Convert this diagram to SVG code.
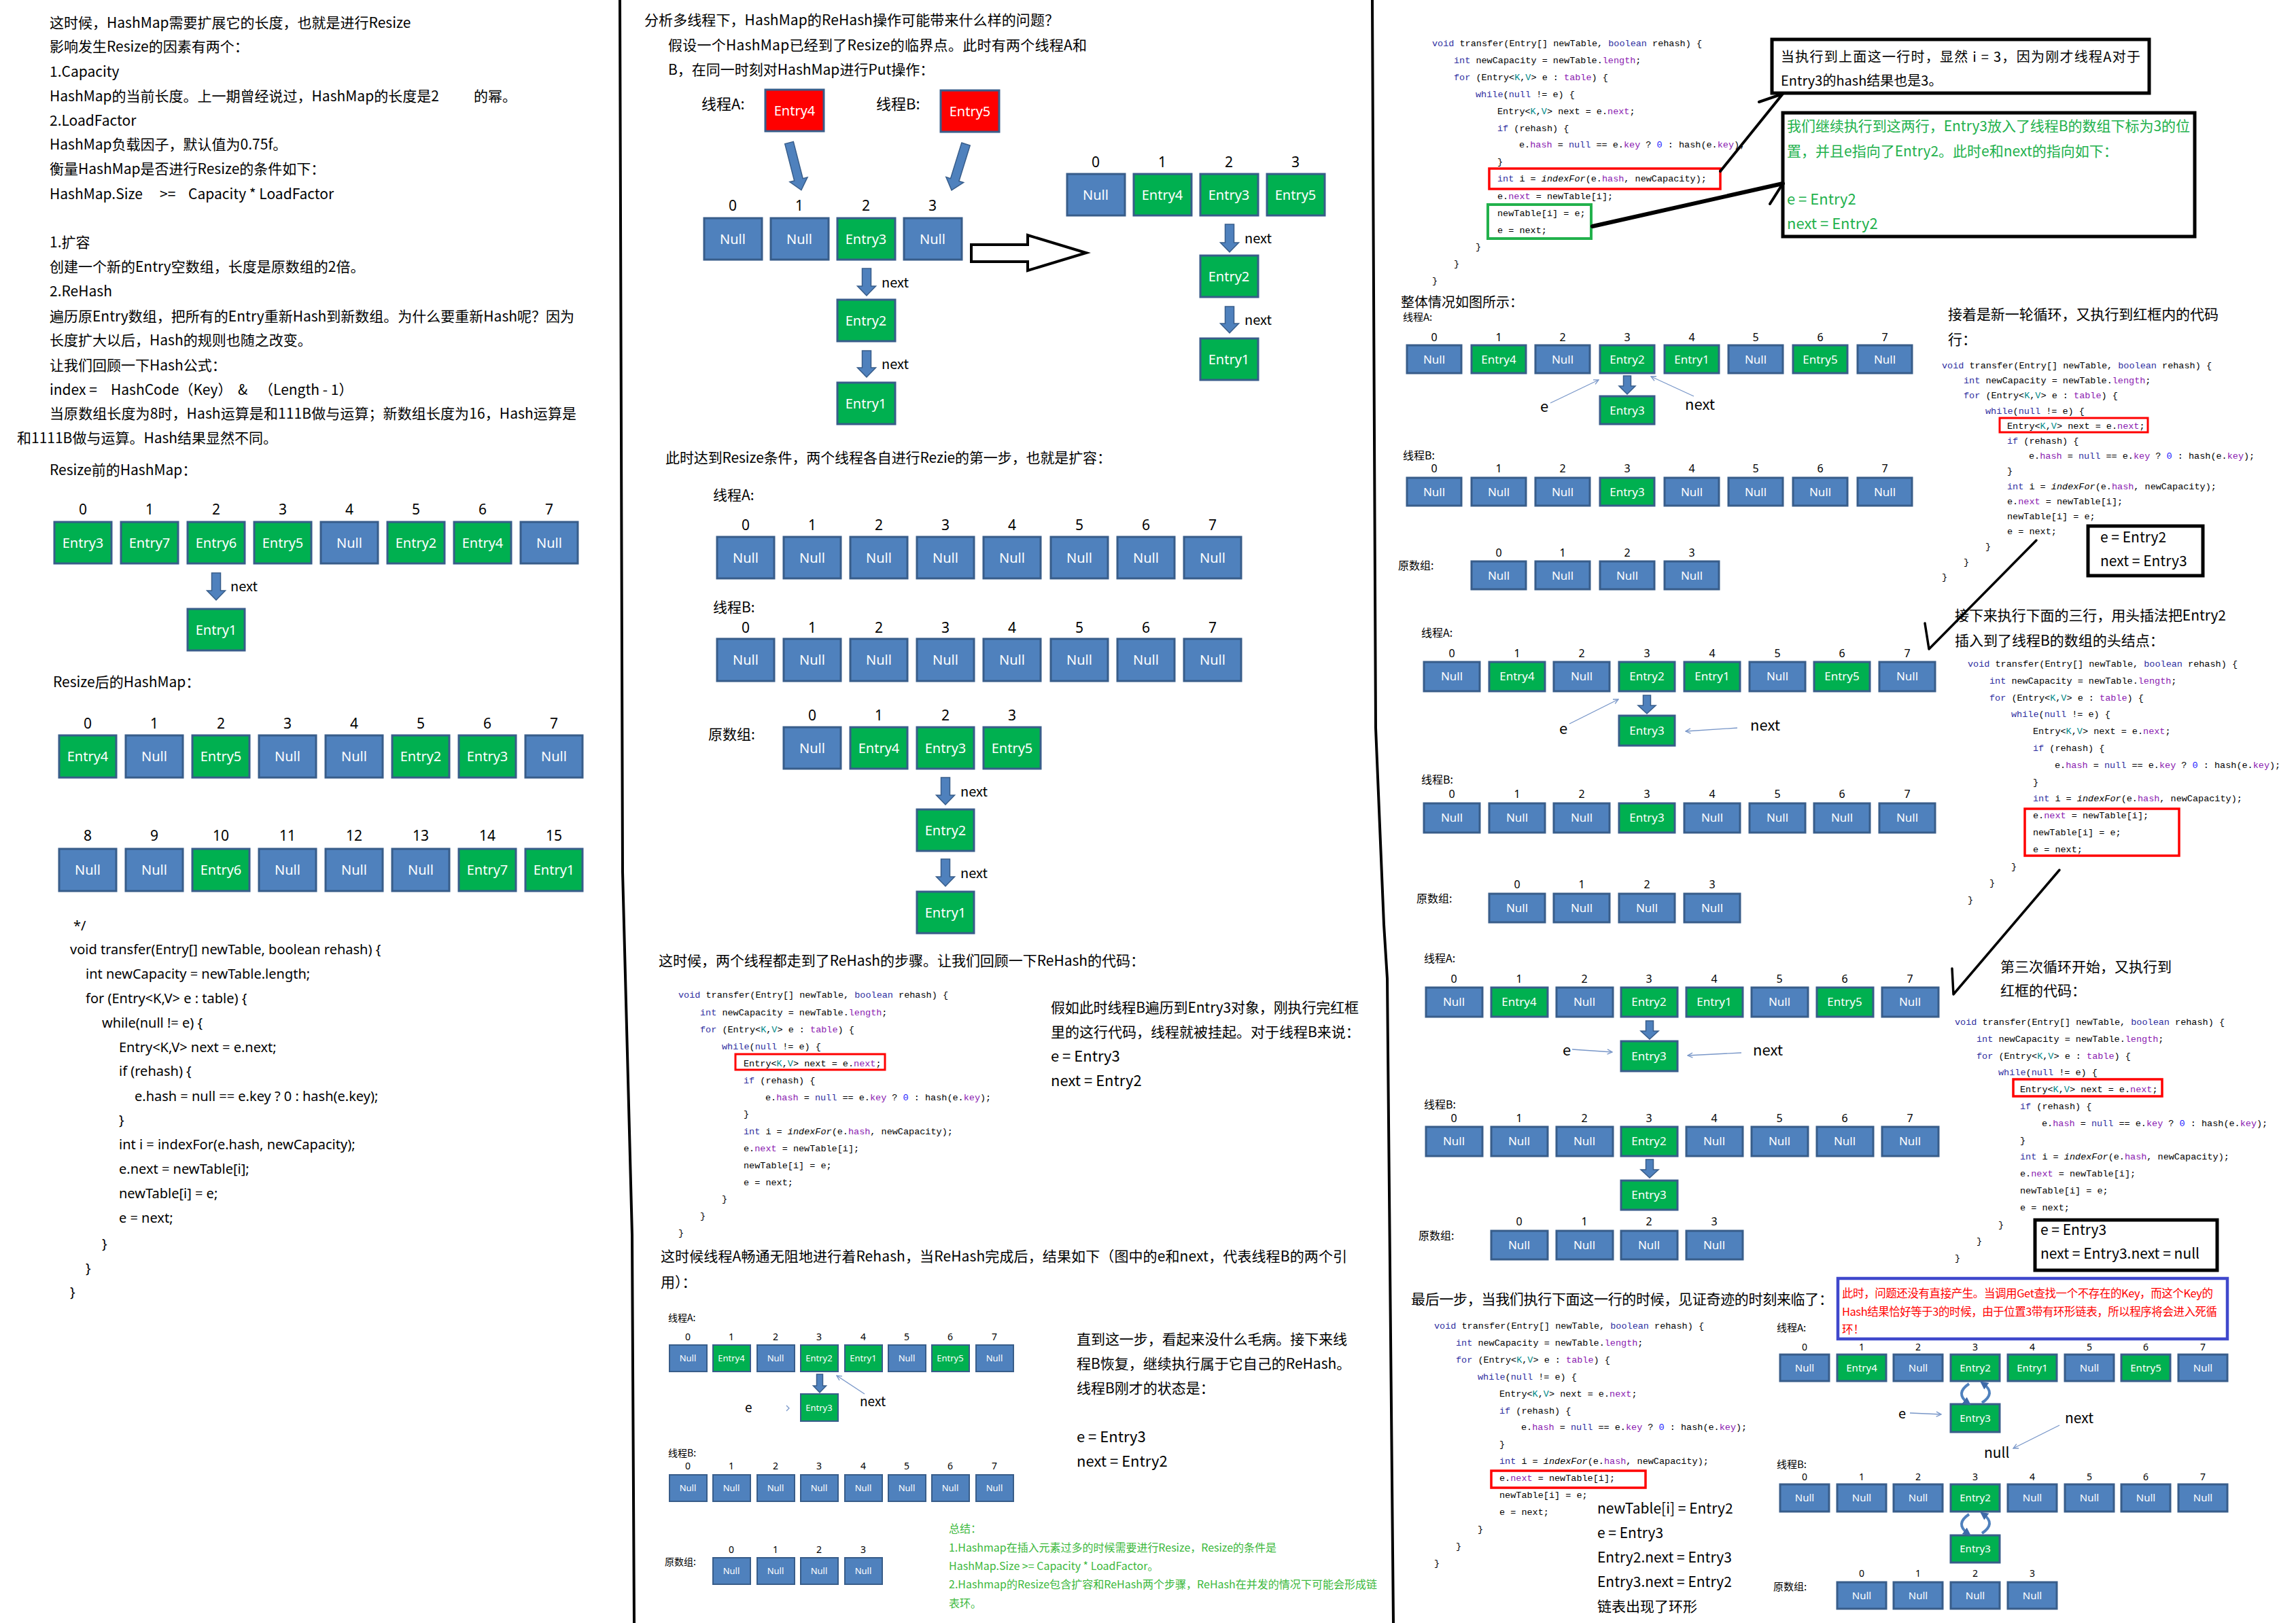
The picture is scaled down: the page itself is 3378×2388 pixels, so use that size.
<svg xmlns="http://www.w3.org/2000/svg" width="3378" height="2388" viewBox="0 0 3378 2388">
<style>
text{font-family:"Noto Sans CJK SC","Noto Sans",sans-serif;fill:#000}
.t21{font-size:21px}.t20{font-size:20px}.t16{font-size:16px}.t15{font-size:15px}.t14{font-size:14px}.t22{font-size:22px}
text.lt{font-family:"Noto Sans","Noto Sans CJK SC",sans-serif;fill:#fff;text-anchor:middle}
.ix text{text-anchor:middle;font-family:"Noto Sans",sans-serif}
.bx{stroke:#385D8A;stroke-width:3}
.sm{stroke-width:2}
.g{fill:#00B050}.b{fill:#4F81BD}.r{fill:#FF0000}
.code text{font-family:"Liberation Mono",monospace;font-size:13.5px}
.lc text{font-family:"Noto Sans","Noto Sans CJK SC",sans-serif;font-size:20px}
.kw{fill:#2E2EA0}.fd{fill:#8A1AB0}.tv{fill:#008A8A}.nm{fill:#1A1AFF}
.arr{fill:#4F81BD;stroke:#385D8A;stroke-width:1.5}
.ptr{fill:none;stroke:#7896C8;stroke-width:1.3;marker-end:url(#open)}
.blk{fill:none;stroke:#000;stroke-linecap:round}
text.grn{fill:#22B14C}text.red{fill:#FF0000}text.sum{fill:#3CB83C;font-size:16px}
.crv{fill:none;stroke:#4F81BD;stroke-width:4;marker-end:url(#tri)}
</style>
<defs>
<marker id="open" viewBox="0 0 10 10" refX="9" refY="5" markerWidth="9" markerHeight="9" markerUnits="userSpaceOnUse" orient="auto"><path d="M1,1L9,5L1,9" fill="none" stroke="#7896C8" stroke-width="1.5"/></marker>
<marker id="tri" viewBox="0 0 10 10" refX="5" refY="5" markerWidth="12" markerHeight="12" markerUnits="userSpaceOnUse" orient="auto"><path d="M0,0L10,5L0,10Z" fill="#3E6AA8"/></marker>
</defs>

<!-- dividers -->
<g id="dividers" fill="none" stroke="#000" stroke-width="4">
<path d="M912,0 L916,1283 L930,1817 L933,2388"/>
<path d="M2019,0 L2024,1071 L2036,1360 L2041,1440 L2050,2388"/>
</g>

<!-- LEFT COLUMN TEXT -->
<g id="left-text" class="t21">
<text x="73" y="41">这时候，HashMap需要扩展它的长度，也就是进行Resize</text>
<text x="73" y="76">影响发生Resize的因素有两个：</text>
<text x="73" y="113">1.Capacity</text>
<text x="73" y="149">HashMap的当前长度。上一期曾经说过，HashMap的长度是2</text>
<text x="697" y="149">的幂。</text>
<text x="73" y="185">2.LoadFactor</text>
<text x="73" y="220">HashMap负载因子，默认值为0.75f。</text>
<text x="73" y="256">衡量HashMap是否进行Resize的条件如下：</text>
<text x="73" y="293">HashMap.Size</text>
<text x="235" y="293">&gt;=</text>
<text x="277" y="293">Capacity * LoadFactor</text>
<text x="73" y="364">1.扩容</text>
<text x="73" y="400">创建一个新的Entry空数组，长度是原数组的2倍。</text>
<text x="73" y="436">2.ReHash</text>
<text x="73" y="473" textLength="772">遍历原Entry数组，把所有的Entry重新Hash到新数组。为什么要重新Hash呢？因为</text>
<text x="73" y="508">长度扩大以后，Hash的规则也随之改变。</text>
<text x="73" y="545">让我们回顾一下Hash公式：</text>
<text x="73" y="581">index =</text>
<text x="163" y="581">HashCode（Key）</text>
<text x="350" y="581">&amp;</text>
<text x="381" y="581">（Length - 1）</text>
<text x="73" y="616" textLength="775">当原数组长度为8时，Hash运算是和111B做与运算；新数组长度为16，Hash运算是</text>
<text x="25" y="652">和1111B做与运算。Hash结果显然不同。</text>
<text x="73" y="699">Resize前的HashMap：</text>
<text x="78" y="1011">Resize后的HashMap：</text>
</g>

<!-- S1 indices -->
<g id="s1-idx" class="ix t21">
<text x="122" y="757">0</text><text x="220" y="757">1</text><text x="318" y="757">2</text><text x="416" y="757">3</text><text x="514" y="757">4</text><text x="612" y="757">5</text><text x="710" y="757">6</text><text x="808" y="757">7</text>
</g>
<g id="s1-0"><rect class="bx g" x="80" y="768" width="84" height="61"/><text class="lt t20" x="122" y="806">Entry3</text></g>
<g id="s1-1"><rect class="bx g" x="178" y="768" width="84" height="61"/><text class="lt t20" x="220" y="806">Entry7</text></g>
<g id="s1-2"><rect class="bx g" x="276" y="768" width="84" height="61"/><text class="lt t20" x="318" y="806">Entry6</text></g>
<g id="s1-3"><rect class="bx g" x="374" y="768" width="84" height="61"/><text class="lt t20" x="416" y="806">Entry5</text></g>
<g id="s1-4"><rect class="bx b" x="472" y="768" width="84" height="61"/><text class="lt t20" x="514" y="806">Null</text></g>
<g id="s1-5"><rect class="bx g" x="570" y="768" width="84" height="61"/><text class="lt t20" x="612" y="806">Entry2</text></g>
<g id="s1-6"><rect class="bx g" x="668" y="768" width="84" height="61"/><text class="lt t20" x="710" y="806">Entry4</text></g>
<g id="s1-7"><rect class="bx b" x="766" y="768" width="84" height="61"/><text class="lt t20" x="808" y="806">Null</text></g>
<g id="s1-e1"><rect class="bx g" x="276" y="896" width="84" height="61"/><text class="lt t20" x="318" y="934">Entry1</text></g>
<text class="t20" x="339" y="870">next</text>

<!-- S2 -->
<g id="s2-idx" class="ix t21">
<text x="129" y="1072">0</text><text x="227" y="1072">1</text><text x="325" y="1072">2</text><text x="423" y="1072">3</text><text x="521" y="1072">4</text><text x="619" y="1072">5</text><text x="717" y="1072">6</text><text x="815" y="1072">7</text>
<text x="129" y="1237">8</text><text x="227" y="1237">9</text><text x="325" y="1237">10</text><text x="423" y="1237">11</text><text x="521" y="1237">12</text><text x="619" y="1237">13</text><text x="717" y="1237">14</text><text x="815" y="1237">15</text>
</g>
<g id="s2-0"><rect class="bx g" x="87" y="1082" width="84" height="62"/><text class="lt t20" x="129" y="1120">Entry4</text></g>
<g id="s2-1"><rect class="bx b" x="185" y="1082" width="84" height="62"/><text class="lt t20" x="227" y="1120">Null</text></g>
<g id="s2-2"><rect class="bx g" x="283" y="1082" width="84" height="62"/><text class="lt t20" x="325" y="1120">Entry5</text></g>
<g id="s2-3"><rect class="bx b" x="381" y="1082" width="84" height="62"/><text class="lt t20" x="423" y="1120">Null</text></g>
<g id="s2-4"><rect class="bx b" x="479" y="1082" width="84" height="62"/><text class="lt t20" x="521" y="1120">Null</text></g>
<g id="s2-5"><rect class="bx g" x="577" y="1082" width="84" height="62"/><text class="lt t20" x="619" y="1120">Entry2</text></g>
<g id="s2-6"><rect class="bx g" x="675" y="1082" width="84" height="62"/><text class="lt t20" x="717" y="1120">Entry3</text></g>
<g id="s2-7"><rect class="bx b" x="773" y="1082" width="84" height="62"/><text class="lt t20" x="815" y="1120">Null</text></g>
<g id="s2-8"><rect class="bx b" x="87" y="1249" width="84" height="62"/><text class="lt t20" x="129" y="1287">Null</text></g>
<g id="s2-9"><rect class="bx b" x="185" y="1249" width="84" height="62"/><text class="lt t20" x="227" y="1287">Null</text></g>
<g id="s2-10"><rect class="bx g" x="283" y="1249" width="84" height="62"/><text class="lt t20" x="325" y="1287">Entry6</text></g>
<g id="s2-11"><rect class="bx b" x="381" y="1249" width="84" height="62"/><text class="lt t20" x="423" y="1287">Null</text></g>
<g id="s2-12"><rect class="bx b" x="479" y="1249" width="84" height="62"/><text class="lt t20" x="521" y="1287">Null</text></g>
<g id="s2-13"><rect class="bx b" x="577" y="1249" width="84" height="62"/><text class="lt t20" x="619" y="1287">Null</text></g>
<g id="s2-14"><rect class="bx g" x="675" y="1249" width="84" height="62"/><text class="lt t20" x="717" y="1287">Entry7</text></g>
<g id="s2-15"><rect class="bx g" x="773" y="1249" width="84" height="62"/><text class="lt t20" x="815" y="1287">Entry1</text></g>

<!-- left code -->
<g id="left-code" class="lc">
<text x="108" y="1369">*/</text>
<text x="103" y="1404">void transfer(Entry[] newTable, boolean rehash) {</text>
<text x="126" y="1440">int newCapacity = newTable.length;</text>
<text x="126" y="1476">for (Entry&lt;K,V&gt; e : table) {</text>
<text x="150" y="1512">while(null != e) {</text>
<text x="175" y="1548">Entry&lt;K,V&gt; next = e.next;</text>
<text x="175" y="1583">if (rehash) {</text>
<text x="198" y="1620">e.hash = null == e.key ? 0 : hash(e.key);</text>
<text x="175" y="1655">}</text>
<text x="175" y="1691">int i = indexFor(e.hash, newCapacity);</text>
<text x="175" y="1727">e.next = newTable[i];</text>
<text x="175" y="1763">newTable[i] = e;</text>
<text x="175" y="1799">e = next;</text>
<text x="150" y="1837">}</text>
<text x="126" y="1873">}</text>
<text x="103" y="1908">}</text>
</g>

<!-- MIDDLE TOP -->
<g id="mid-text" class="t21">
<text x="948" y="37" textLength="610">分析多线程下，HashMap的ReHash操作可能带来什么样的问题？</text>
<text x="983" y="74" textLength="616">假设一个HashMap已经到了Resize的临界点。此时有两个线程A和</text>
<text x="983" y="110">B，在同一时刻对HashMap进行Put操作：</text>
<text class="t22" x="1032" y="161">线程A:</text>
<text class="t22" x="1289" y="161">线程B:</text>
<text x="979" y="681" textLength="656">此时达到Resize条件，两个线程各自进行Rezie的第一步，也就是扩容：</text>
<text x="1049" y="736">线程A:</text>
<text x="1049" y="901">线程B:</text>
<text x="1042" y="1088">原数组:</text>
<text x="969" y="1421" textLength="715">这时候，两个线程都走到了ReHash的步骤。让我们回顾一下ReHash的代码：</text>
<text x="1546" y="1490" textLength="453">假如此时线程B遍历到Entry3对象，刚执行完红框</text>
<text x="1546" y="1526">里的这行代码，线程就被挂起。对于线程B来说：</text>
<text class="t22" x="1546" y="1562">e = Entry3</text>
<text class="t22" x="1546" y="1598">next = Entry2</text>
<text x="972" y="1856" textLength="1010">这时候线程A畅通无阻地进行着Rehash，当ReHash完成后，结果如下（图中的e和next，代表线程B的两个引</text>
<text x="972" y="1894">用）：</text>
<text x="1584" y="1978" textLength="398">直到这一步，看起来没什么毛病。接下来线</text>
<text x="1584" y="2014">程B恢复，继续执行属于它自己的ReHash。</text>
<text x="1584" y="2050">线程B刚才的状态是：</text>
<text class="t22" x="1584" y="2122">e = Entry3</text>
<text class="t22" x="1584" y="2158">next = Entry2</text>
</g>
<g id="summary">
<text class="sum" x="1396" y="2255">总结：</text>
<text class="sum" x="1396" y="2283" textLength="482">1.Hashmap在插入元素过多的时候需要进行Resize，Resize的条件是</text>
<text class="sum" x="1396" y="2310">HashMap.Size   &gt;=  Capacity * LoadFactor。</text>
<text class="sum" x="1396" y="2337" textLength="630">2.Hashmap的Resize包含扩容和ReHash两个步骤，ReHash在并发的情况下可能会形成链</text>
<text class="sum" x="1396" y="2365">表环。</text>
</g>

<!-- S3 -->
<g id="s3-ta"><rect class="bx r" x="1126" y="132" width="86" height="61"/><text class="lt t20" x="1169" y="170">Entry4</text></g>
<g id="s3-tb"><rect class="bx r" x="1384" y="133" width="86" height="61"/><text class="lt t20" x="1427" y="171">Entry5</text></g>
<g class="ix t21">
<text x="1078" y="310">0</text><text x="1176" y="310">1</text><text x="1274" y="310">2</text><text x="1372" y="310">3</text>
<text x="1612" y="246">0</text><text x="1710" y="246">1</text><text x="1808" y="246">2</text><text x="1906" y="246">3</text>
</g>
<g id="s3-0"><rect class="bx b" x="1036" y="321" width="85" height="61"/><text class="lt t20" x="1078" y="359">Null</text></g>
<g id="s3-1"><rect class="bx b" x="1134" y="321" width="85" height="61"/><text class="lt t20" x="1176" y="359">Null</text></g>
<g id="s3-2"><rect class="bx g" x="1232" y="321" width="85" height="61"/><text class="lt t20" x="1274" y="359">Entry3</text></g>
<g id="s3-3"><rect class="bx b" x="1330" y="321" width="85" height="61"/><text class="lt t20" x="1372" y="359">Null</text></g>
<g id="s3-e2"><rect class="bx g" x="1232" y="441" width="85" height="61"/><text class="lt t20" x="1274" y="479">Entry2</text></g>
<g id="s3-e1"><rect class="bx g" x="1232" y="563" width="85" height="61"/><text class="lt t20" x="1274" y="601">Entry1</text></g>
<g id="s3r-0"><rect class="bx b" x="1570" y="256" width="85" height="61"/><text class="lt t20" x="1612" y="294">Null</text></g>
<g id="s3r-1"><rect class="bx g" x="1668" y="256" width="85" height="61"/><text class="lt t20" x="1710" y="294">Entry4</text></g>
<g id="s3r-2"><rect class="bx g" x="1766" y="256" width="85" height="61"/><text class="lt t20" x="1808" y="294">Entry3</text></g>
<g id="s3r-3"><rect class="bx g" x="1864" y="256" width="85" height="61"/><text class="lt t20" x="1906" y="294">Entry5</text></g>
<g id="s3r-e2"><rect class="bx g" x="1766" y="376" width="85" height="61"/><text class="lt t20" x="1808" y="414">Entry2</text></g>
<g id="s3r-e1"><rect class="bx g" x="1766" y="498" width="85" height="61"/><text class="lt t20" x="1808" y="536">Entry1</text></g>
<g class="t20"><text x="1297" y="423">next</text><text x="1297" y="543">next</text><text x="1831" y="358">next</text><text x="1831" y="478">next</text></g>

<!-- S4 -->
<g class="ix t21">
<text x="1097" y="780">0</text><text x="1195" y="780">1</text><text x="1293" y="780">2</text><text x="1391" y="780">3</text><text x="1489" y="780">4</text><text x="1588" y="780">5</text><text x="1686" y="780">6</text><text x="1784" y="780">7</text>
<text x="1097" y="931">0</text><text x="1195" y="931">1</text><text x="1293" y="931">2</text><text x="1391" y="931">3</text><text x="1489" y="931">4</text><text x="1588" y="931">5</text><text x="1686" y="931">6</text><text x="1784" y="931">7</text>
<text x="1195" y="1060">0</text><text x="1293" y="1060">1</text><text x="1391" y="1060">2</text><text x="1489" y="1060">3</text>
</g>
<g id="s4a-0"><rect class="bx b" x="1055" y="790" width="84" height="61"/><text class="lt t20" x="1097" y="828">Null</text></g>
<g id="s4a-1"><rect class="bx b" x="1153" y="790" width="84" height="61"/><text class="lt t20" x="1195" y="828">Null</text></g>
<g id="s4a-2"><rect class="bx b" x="1251" y="790" width="84" height="61"/><text class="lt t20" x="1293" y="828">Null</text></g>
<g id="s4a-3"><rect class="bx b" x="1349" y="790" width="84" height="61"/><text class="lt t20" x="1391" y="828">Null</text></g>
<g id="s4a-4"><rect class="bx b" x="1447" y="790" width="84" height="61"/><text class="lt t20" x="1489" y="828">Null</text></g>
<g id="s4a-5"><rect class="bx b" x="1546" y="790" width="84" height="61"/><text class="lt t20" x="1588" y="828">Null</text></g>
<g id="s4a-6"><rect class="bx b" x="1644" y="790" width="84" height="61"/><text class="lt t20" x="1686" y="828">Null</text></g>
<g id="s4a-7"><rect class="bx b" x="1742" y="790" width="84" height="61"/><text class="lt t20" x="1784" y="828">Null</text></g>
<g id="s4b-0"><rect class="bx b" x="1055" y="940" width="84" height="62"/><text class="lt t20" x="1097" y="978">Null</text></g>
<g id="s4b-1"><rect class="bx b" x="1153" y="940" width="84" height="62"/><text class="lt t20" x="1195" y="978">Null</text></g>
<g id="s4b-2"><rect class="bx b" x="1251" y="940" width="84" height="62"/><text class="lt t20" x="1293" y="978">Null</text></g>
<g id="s4b-3"><rect class="bx b" x="1349" y="940" width="84" height="62"/><text class="lt t20" x="1391" y="978">Null</text></g>
<g id="s4b-4"><rect class="bx b" x="1447" y="940" width="84" height="62"/><text class="lt t20" x="1489" y="978">Null</text></g>
<g id="s4b-5"><rect class="bx b" x="1546" y="940" width="84" height="62"/><text class="lt t20" x="1588" y="978">Null</text></g>
<g id="s4b-6"><rect class="bx b" x="1644" y="940" width="84" height="62"/><text class="lt t20" x="1686" y="978">Null</text></g>
<g id="s4b-7"><rect class="bx b" x="1742" y="940" width="84" height="62"/><text class="lt t20" x="1784" y="978">Null</text></g>
<g id="s4o-0"><rect class="bx b" x="1153" y="1070" width="84" height="61"/><text class="lt t20" x="1195" y="1108">Null</text></g>
<g id="s4o-1"><rect class="bx g" x="1251" y="1070" width="84" height="61"/><text class="lt t20" x="1293" y="1108">Entry4</text></g>
<g id="s4o-2"><rect class="bx g" x="1349" y="1070" width="84" height="61"/><text class="lt t20" x="1391" y="1108">Entry3</text></g>
<g id="s4o-3"><rect class="bx g" x="1447" y="1070" width="84" height="61"/><text class="lt t20" x="1489" y="1108">Entry5</text></g>
<g id="s4o-e2"><rect class="bx g" x="1349" y="1191" width="84" height="61"/><text class="lt t20" x="1391" y="1229">Entry2</text></g>
<g id="s4o-e1"><rect class="bx g" x="1349" y="1312" width="84" height="61"/><text class="lt t20" x="1391" y="1350">Entry1</text></g>
<g class="t20"><text x="1413" y="1172">next</text><text x="1413" y="1292">next</text></g>

<!-- mid code -->
<g id="code-mid" class="code">
<text x="998" y="1468"><tspan class="kw">void</tspan> transfer(Entry[] newTable, <tspan class="kw">boolean</tspan> rehash) {</text>
<text x="1030" y="1494"><tspan class="kw">int</tspan> newCapacity = newTable.<tspan class="fd">length</tspan>;</text>
<text x="1030" y="1519"><tspan class="kw">for</tspan> (Entry&lt;<tspan class="tv">K</tspan>,<tspan class="tv">V</tspan>&gt; e : <tspan class="fd">table</tspan>) {</text>
<text x="1062" y="1544"><tspan class="kw">while</tspan>(<tspan class="kw">null</tspan> != e) {</text>
<text x="1094" y="1569">Entry&lt;<tspan class="tv">K</tspan>,<tspan class="tv">V</tspan>&gt; next = e.<tspan class="fd">next</tspan>;</text>
<text x="1094" y="1594"><tspan class="kw">if</tspan> (rehash) {</text>
<text x="1126" y="1619">e.<tspan class="fd">hash</tspan> = <tspan class="kw">null</tspan> == e.<tspan class="fd">key</tspan> ? <tspan class="nm">0</tspan> : hash(e.<tspan class="fd">key</tspan>);</text>
<text x="1094" y="1643">}</text>
<text x="1094" y="1669"><tspan class="kw">int</tspan> i = <tspan font-style="italic">indexFor</tspan>(e.<tspan class="fd">hash</tspan>, newCapacity);</text>
<text x="1094" y="1694">e.<tspan class="fd">next</tspan> = newTable[i];</text>
<text x="1094" y="1719">newTable[i] = e;</text>
<text x="1094" y="1744">e = next;</text>
<text x="1062" y="1768">}</text>
<text x="1030" y="1793">}</text>
<text x="998" y="1818">}</text>
</g>
<rect x="1082" y="1551" width="220" height="23" fill="none" stroke="#FF0000" stroke-width="3"/>

<!-- S5 small -->
<g class="t14">
<text x="983" y="1944">线程A:</text><text x="983" y="2143">线程B:</text><text x="978" y="2303">原数组:</text>
</g>
<g class="ix t14">
<text x="1012" y="1972">0</text><text x="1076" y="1972">1</text><text x="1141" y="1972">2</text><text x="1205" y="1972">3</text><text x="1270" y="1972">4</text><text x="1334" y="1972">5</text><text x="1398" y="1972">6</text><text x="1463" y="1972">7</text>
<text x="1012" y="2162">0</text><text x="1076" y="2162">1</text><text x="1141" y="2162">2</text><text x="1205" y="2162">3</text><text x="1270" y="2162">4</text><text x="1334" y="2162">5</text><text x="1398" y="2162">6</text><text x="1463" y="2162">7</text>
<text x="1076" y="2285">0</text><text x="1141" y="2285">1</text><text x="1205" y="2285">2</text><text x="1270" y="2285">3</text>
</g>
<g id="s5a-0"><rect class="bx sm b" x="985" y="1979" width="55" height="39"/><text class="lt" font-size="13" x="1012" y="2003">Null</text></g>
<g id="s5a-1"><rect class="bx sm g" x="1049" y="1979" width="55" height="39"/><text class="lt" font-size="13" x="1076" y="2003">Entry4</text></g>
<g id="s5a-2"><rect class="bx sm b" x="1114" y="1979" width="55" height="39"/><text class="lt" font-size="13" x="1141" y="2003">Null</text></g>
<g id="s5a-3"><rect class="bx sm g" x="1178" y="1979" width="55" height="39"/><text class="lt" font-size="13" x="1205" y="2003">Entry2</text></g>
<g id="s5a-4"><rect class="bx sm g" x="1243" y="1979" width="55" height="39"/><text class="lt" font-size="13" x="1270" y="2003">Entry1</text></g>
<g id="s5a-5"><rect class="bx sm b" x="1307" y="1979" width="55" height="39"/><text class="lt" font-size="13" x="1334" y="2003">Null</text></g>
<g id="s5a-6"><rect class="bx sm g" x="1371" y="1979" width="55" height="39"/><text class="lt" font-size="13" x="1398" y="2003">Entry5</text></g>
<g id="s5a-7"><rect class="bx sm b" x="1436" y="1979" width="55" height="39"/><text class="lt" font-size="13" x="1463" y="2003">Null</text></g>
<g id="s5a-e3"><rect class="bx sm g" x="1178" y="2051" width="55" height="40"/><text class="lt" font-size="13" x="1205" y="2076">Entry3</text></g>
<g id="s5b-0"><rect class="bx sm b" x="985" y="2170" width="55" height="39"/><text class="lt" font-size="13" x="1012" y="2194">Null</text></g>
<g id="s5b-1"><rect class="bx sm b" x="1049" y="2170" width="55" height="39"/><text class="lt" font-size="13" x="1076" y="2194">Null</text></g>
<g id="s5b-2"><rect class="bx sm b" x="1114" y="2170" width="55" height="39"/><text class="lt" font-size="13" x="1141" y="2194">Null</text></g>
<g id="s5b-3"><rect class="bx sm b" x="1178" y="2170" width="55" height="39"/><text class="lt" font-size="13" x="1205" y="2194">Null</text></g>
<g id="s5b-4"><rect class="bx sm b" x="1243" y="2170" width="55" height="39"/><text class="lt" font-size="13" x="1270" y="2194">Null</text></g>
<g id="s5b-5"><rect class="bx sm b" x="1307" y="2170" width="55" height="39"/><text class="lt" font-size="13" x="1334" y="2194">Null</text></g>
<g id="s5b-6"><rect class="bx sm b" x="1371" y="2170" width="55" height="39"/><text class="lt" font-size="13" x="1398" y="2194">Null</text></g>
<g id="s5b-7"><rect class="bx sm b" x="1436" y="2170" width="55" height="39"/><text class="lt" font-size="13" x="1463" y="2194">Null</text></g>
<g id="s5o-0"><rect class="bx sm b" x="1049" y="2292" width="55" height="39"/><text class="lt" font-size="13" x="1076" y="2316">Null</text></g>
<g id="s5o-1"><rect class="bx sm b" x="1114" y="2292" width="55" height="39"/><text class="lt" font-size="13" x="1141" y="2316">Null</text></g>
<g id="s5o-2"><rect class="bx sm b" x="1178" y="2292" width="55" height="39"/><text class="lt" font-size="13" x="1205" y="2316">Null</text></g>
<g id="s5o-3"><rect class="bx sm b" x="1243" y="2292" width="55" height="39"/><text class="lt" font-size="13" x="1270" y="2316">Null</text></g>
<text font-size="19" x="1096" y="2078">e</text>
<text font-size="19" x="1265" y="2069">next</text>

<!-- RIGHT COLUMN -->
<g id="note1"><rect x="2607" y="58" width="555" height="79" fill="#fff" stroke="#000" stroke-width="5"/>
<text class="t20" x="2620" y="91" textLength="529">当执行到上面这一行时，显然 i = 3，因为刚才线程A对于</text>
<text class="t20" x="2620" y="126">Entry3的hash结果也是3。</text></g>
<g id="note2"><rect x="2623" y="166" width="606" height="182" fill="#fff" stroke="#000" stroke-width="5"/>
<text class="t21 grn" x="2629" y="193" textLength="593">我们继续执行到这两行，Entry3放入了线程B的数组下标为3的位</text>
<text class="t21 grn" x="2629" y="230">置，并且e指向了Entry2。此时e和next的指向如下：</text>
<text class="t22 grn" x="2629" y="301">e = Entry2</text>
<text class="t22 grn" x="2629" y="337">next = Entry2</text></g>

<g id="code-r1" class="code">
<text x="2107" y="68"><tspan class="kw">void</tspan> transfer(Entry[] newTable, <tspan class="kw">boolean</tspan> rehash) {</text>
<text x="2139" y="93"><tspan class="kw">int</tspan> newCapacity = newTable.<tspan class="fd">length</tspan>;</text>
<text x="2139" y="118"><tspan class="kw">for</tspan> (Entry&lt;<tspan class="tv">K</tspan>,<tspan class="tv">V</tspan>&gt; e : <tspan class="fd">table</tspan>) {</text>
<text x="2171" y="143"><tspan class="kw">while</tspan>(<tspan class="kw">null</tspan> != e) {</text>
<text x="2203" y="168">Entry&lt;<tspan class="tv">K</tspan>,<tspan class="tv">V</tspan>&gt; next = e.<tspan class="fd">next</tspan>;</text>
<text x="2203" y="193"><tspan class="kw">if</tspan> (rehash) {</text>
<text x="2235" y="217">e.<tspan class="fd">hash</tspan> = <tspan class="kw">null</tspan> == e.<tspan class="fd">key</tspan> ? <tspan class="nm">0</tspan> : hash(e.<tspan class="fd">key</tspan>);</text>
<text x="2203" y="242">}</text>
<text x="2203" y="267"><tspan class="kw">int</tspan> i = <tspan font-style="italic">indexFor</tspan>(e.<tspan class="fd">hash</tspan>, newCapacity);</text>
<text x="2203" y="293">e.<tspan class="fd">next</tspan> = newTable[i];</text>
<text x="2203" y="318">newTable[i] = e;</text>
<text x="2203" y="343">e = next;</text>
<text x="2171" y="367">}</text>
<text x="2139" y="392">}</text>
<text x="2107" y="417">}</text>
</g>
<rect x="2191" y="248" width="340" height="30" fill="none" stroke="#FF0000" stroke-width="3.5"/>
<rect x="2189" y="301" width="152" height="50" fill="none" stroke="#22B14C" stroke-width="4"/>

<text class="t20" x="2061" y="452">整体情况如图所示：</text>
<g class="t15"><text x="2064" y="472">线程A:</text></g>
<g class="t16"><text x="2064" y="676">线程B:</text><text x="2057" y="838">原数组:</text></g>
<g class="ix t16">
<text x="2110" y="502">0</text><text x="2205" y="502">1</text><text x="2299" y="502">2</text><text x="2394" y="502">3</text><text x="2489" y="502">4</text><text x="2583" y="502">5</text><text x="2678" y="502">6</text><text x="2773" y="502">7</text>
<text x="2110" y="695">0</text><text x="2205" y="695">1</text><text x="2299" y="695">2</text><text x="2394" y="695">3</text><text x="2489" y="695">4</text><text x="2583" y="695">5</text><text x="2678" y="695">6</text><text x="2773" y="695">7</text>
<text x="2205" y="819">0</text><text x="2299" y="819">1</text><text x="2394" y="819">2</text><text x="2489" y="819">3</text>
</g>
<g id="s6a-0"><rect class="bx b" x="2070" y="508" width="80" height="41"/><text class="lt" font-size="17" x="2110" y="535">Null</text></g>
<g id="s6a-1"><rect class="bx g" x="2165" y="508" width="80" height="41"/><text class="lt" font-size="17" x="2205" y="535">Entry4</text></g>
<g id="s6a-2"><rect class="bx b" x="2259" y="508" width="80" height="41"/><text class="lt" font-size="17" x="2299" y="535">Null</text></g>
<g id="s6a-3"><rect class="bx g" x="2354" y="508" width="80" height="41"/><text class="lt" font-size="17" x="2394" y="535">Entry2</text></g>
<g id="s6a-4"><rect class="bx g" x="2449" y="508" width="80" height="41"/><text class="lt" font-size="17" x="2489" y="535">Entry1</text></g>
<g id="s6a-5"><rect class="bx b" x="2543" y="508" width="80" height="41"/><text class="lt" font-size="17" x="2583" y="535">Null</text></g>
<g id="s6a-6"><rect class="bx g" x="2638" y="508" width="80" height="41"/><text class="lt" font-size="17" x="2678" y="535">Entry5</text></g>
<g id="s6a-7"><rect class="bx b" x="2733" y="508" width="80" height="41"/><text class="lt" font-size="17" x="2773" y="535">Null</text></g>
<g id="s6a-e3"><rect class="bx g" x="2354" y="583" width="80" height="41"/><text class="lt" font-size="17" x="2394" y="610">Entry3</text></g>
<g id="s6b-0"><rect class="bx b" x="2070" y="703" width="80" height="41"/><text class="lt" font-size="17" x="2110" y="730">Null</text></g>
<g id="s6b-1"><rect class="bx b" x="2165" y="703" width="80" height="41"/><text class="lt" font-size="17" x="2205" y="730">Null</text></g>
<g id="s6b-2"><rect class="bx b" x="2259" y="703" width="80" height="41"/><text class="lt" font-size="17" x="2299" y="730">Null</text></g>
<g id="s6b-3"><rect class="bx g" x="2354" y="703" width="80" height="41"/><text class="lt" font-size="17" x="2394" y="730">Entry3</text></g>
<g id="s6b-4"><rect class="bx b" x="2449" y="703" width="80" height="41"/><text class="lt" font-size="17" x="2489" y="730">Null</text></g>
<g id="s6b-5"><rect class="bx b" x="2543" y="703" width="80" height="41"/><text class="lt" font-size="17" x="2583" y="730">Null</text></g>
<g id="s6b-6"><rect class="bx b" x="2638" y="703" width="80" height="41"/><text class="lt" font-size="17" x="2678" y="730">Null</text></g>
<g id="s6b-7"><rect class="bx b" x="2733" y="703" width="80" height="41"/><text class="lt" font-size="17" x="2773" y="730">Null</text></g>
<g id="s6o-0"><rect class="bx b" x="2165" y="826" width="80" height="41"/><text class="lt" font-size="17" x="2205" y="853">Null</text></g>
<g id="s6o-1"><rect class="bx b" x="2259" y="826" width="80" height="41"/><text class="lt" font-size="17" x="2299" y="853">Null</text></g>
<g id="s6o-2"><rect class="bx b" x="2354" y="826" width="80" height="41"/><text class="lt" font-size="17" x="2394" y="853">Null</text></g>
<g id="s6o-3"><rect class="bx b" x="2449" y="826" width="80" height="41"/><text class="lt" font-size="17" x="2489" y="853">Null</text></g>
<text class="t22" x="2266" y="606">e</text>
<text class="t22" x="2479" y="603">next</text>

<text class="t21" x="2866" y="470" textLength="398">接着是新一轮循环，又执行到红框内的代码</text>
<text class="t21" x="2866" y="507">行：</text>
<g id="code-r2" class="code">
<text x="2857" y="542"><tspan class="kw">void</tspan> transfer(Entry[] newTable, <tspan class="kw">boolean</tspan> rehash) {</text>
<text x="2889" y="564"><tspan class="kw">int</tspan> newCapacity = newTable.<tspan class="fd">length</tspan>;</text>
<text x="2889" y="586"><tspan class="kw">for</tspan> (Entry&lt;<tspan class="tv">K</tspan>,<tspan class="tv">V</tspan>&gt; e : <tspan class="fd">table</tspan>) {</text>
<text x="2921" y="609"><tspan class="kw">while</tspan>(<tspan class="kw">null</tspan> != e) {</text>
<text x="2953" y="631">Entry&lt;<tspan class="tv">K</tspan>,<tspan class="tv">V</tspan>&gt; next = e.<tspan class="fd">next</tspan>;</text>
<text x="2953" y="653"><tspan class="kw">if</tspan> (rehash) {</text>
<text x="2985" y="675">e.<tspan class="fd">hash</tspan> = <tspan class="kw">null</tspan> == e.<tspan class="fd">key</tspan> ? <tspan class="nm">0</tspan> : hash(e.<tspan class="fd">key</tspan>);</text>
<text x="2953" y="697">}</text>
<text x="2953" y="720"><tspan class="kw">int</tspan> i = <tspan font-style="italic">indexFor</tspan>(e.<tspan class="fd">hash</tspan>, newCapacity);</text>
<text x="2953" y="742">e.<tspan class="fd">next</tspan> = newTable[i];</text>
<text x="2953" y="764">newTable[i] = e;</text>
<text x="2953" y="786">e = next;</text>
<text x="2921" y="808">}</text>
<text x="2889" y="831">}</text>
<text x="2857" y="853">}</text>
</g>
<rect x="2942" y="615" width="218" height="21" fill="none" stroke="#FF0000" stroke-width="3"/>
<g id="note3"><rect x="3072" y="774" width="169" height="73" fill="#fff" stroke="#000" stroke-width="5"/>
<text class="t21" x="3090" y="798">e = Entry2</text><text class="t21" x="3090" y="833">next = Entry3</text></g>

<!-- S7 -->
<text class="t21" x="2876" y="913" textLength="399">接下来执行下面的三行，用头插法把Entry2</text>
<text class="t21" x="2876" y="950">插入到了线程B的数组的头结点：</text>
<g class="t16"><text x="2091" y="937">线程A:</text><text x="2091" y="1153">线程B:</text><text x="2084" y="1328">原数组:</text></g>
<g class="ix t16">
<text x="2136" y="967">0</text><text x="2232" y="967">1</text><text x="2327" y="967">2</text><text x="2423" y="967">3</text><text x="2519" y="967">4</text><text x="2615" y="967">5</text><text x="2710" y="967">6</text><text x="2806" y="967">7</text>
<text x="2136" y="1174">0</text><text x="2232" y="1174">1</text><text x="2327" y="1174">2</text><text x="2423" y="1174">3</text><text x="2519" y="1174">4</text><text x="2615" y="1174">5</text><text x="2710" y="1174">6</text><text x="2806" y="1174">7</text>
<text x="2232" y="1307">0</text><text x="2327" y="1307">1</text><text x="2423" y="1307">2</text><text x="2519" y="1307">3</text>
</g>
<g id="s7a-0"><rect class="bx b" x="2095" y="974" width="82" height="43"/><text class="lt" font-size="17" x="2136" y="1001">Null</text></g>
<g id="s7a-1"><rect class="bx g" x="2191" y="974" width="82" height="43"/><text class="lt" font-size="17" x="2232" y="1001">Entry4</text></g>
<g id="s7a-2"><rect class="bx b" x="2286" y="974" width="82" height="43"/><text class="lt" font-size="17" x="2327" y="1001">Null</text></g>
<g id="s7a-3"><rect class="bx g" x="2382" y="974" width="82" height="43"/><text class="lt" font-size="17" x="2423" y="1001">Entry2</text></g>
<g id="s7a-4"><rect class="bx g" x="2478" y="974" width="82" height="43"/><text class="lt" font-size="17" x="2519" y="1001">Entry1</text></g>
<g id="s7a-5"><rect class="bx b" x="2574" y="974" width="82" height="43"/><text class="lt" font-size="17" x="2615" y="1001">Null</text></g>
<g id="s7a-6"><rect class="bx g" x="2669" y="974" width="82" height="43"/><text class="lt" font-size="17" x="2710" y="1001">Entry5</text></g>
<g id="s7a-7"><rect class="bx b" x="2765" y="974" width="82" height="43"/><text class="lt" font-size="17" x="2806" y="1001">Null</text></g>
<g id="s7a-e3"><rect class="bx g" x="2382" y="1053" width="82" height="44"/><text class="lt" font-size="17" x="2423" y="1081">Entry3</text></g>
<g id="s7b-0"><rect class="bx b" x="2095" y="1182" width="82" height="43"/><text class="lt" font-size="17" x="2136" y="1209">Null</text></g>
<g id="s7b-1"><rect class="bx b" x="2191" y="1182" width="82" height="43"/><text class="lt" font-size="17" x="2232" y="1209">Null</text></g>
<g id="s7b-2"><rect class="bx b" x="2286" y="1182" width="82" height="43"/><text class="lt" font-size="17" x="2327" y="1209">Null</text></g>
<g id="s7b-3"><rect class="bx g" x="2382" y="1182" width="82" height="43"/><text class="lt" font-size="17" x="2423" y="1209">Entry3</text></g>
<g id="s7b-4"><rect class="bx b" x="2478" y="1182" width="82" height="43"/><text class="lt" font-size="17" x="2519" y="1209">Null</text></g>
<g id="s7b-5"><rect class="bx b" x="2574" y="1182" width="82" height="43"/><text class="lt" font-size="17" x="2615" y="1209">Null</text></g>
<g id="s7b-6"><rect class="bx b" x="2669" y="1182" width="82" height="43"/><text class="lt" font-size="17" x="2710" y="1209">Null</text></g>
<g id="s7b-7"><rect class="bx b" x="2765" y="1182" width="82" height="43"/><text class="lt" font-size="17" x="2806" y="1209">Null</text></g>
<g id="s7o-0"><rect class="bx b" x="2191" y="1315" width="82" height="42"/><text class="lt" font-size="17" x="2232" y="1342">Null</text></g>
<g id="s7o-1"><rect class="bx b" x="2286" y="1315" width="82" height="42"/><text class="lt" font-size="17" x="2327" y="1342">Null</text></g>
<g id="s7o-2"><rect class="bx b" x="2382" y="1315" width="82" height="42"/><text class="lt" font-size="17" x="2423" y="1342">Null</text></g>
<g id="s7o-3"><rect class="bx b" x="2478" y="1315" width="82" height="42"/><text class="lt" font-size="17" x="2519" y="1342">Null</text></g>
<text class="t22" x="2294" y="1080">e</text>
<text class="t22" x="2575" y="1075">next</text>
<g id="code-r3" class="code">
<text x="2895" y="981"><tspan class="kw">void</tspan> transfer(Entry[] newTable, <tspan class="kw">boolean</tspan> rehash) {</text>
<text x="2927" y="1006"><tspan class="kw">int</tspan> newCapacity = newTable.<tspan class="fd">length</tspan>;</text>
<text x="2927" y="1031"><tspan class="kw">for</tspan> (Entry&lt;<tspan class="tv">K</tspan>,<tspan class="tv">V</tspan>&gt; e : <tspan class="fd">table</tspan>) {</text>
<text x="2959" y="1055"><tspan class="kw">while</tspan>(<tspan class="kw">null</tspan> != e) {</text>
<text x="2991" y="1080">Entry&lt;<tspan class="tv">K</tspan>,<tspan class="tv">V</tspan>&gt; next = e.<tspan class="fd">next</tspan>;</text>
<text x="2991" y="1105"><tspan class="kw">if</tspan> (rehash) {</text>
<text x="3023" y="1130">e.<tspan class="fd">hash</tspan> = <tspan class="kw">null</tspan> == e.<tspan class="fd">key</tspan> ? <tspan class="nm">0</tspan> : hash(e.<tspan class="fd">key</tspan>);</text>
<text x="2991" y="1155">}</text>
<text x="2991" y="1179"><tspan class="kw">int</tspan> i = <tspan font-style="italic">indexFor</tspan>(e.<tspan class="fd">hash</tspan>, newCapacity);</text>
<text x="2991" y="1204">e.<tspan class="fd">next</tspan> = newTable[i];</text>
<text x="2991" y="1229">newTable[i] = e;</text>
<text x="2991" y="1254">e = next;</text>
<text x="2959" y="1279">}</text>
<text x="2927" y="1303">}</text>
<text x="2895" y="1328">}</text>
</g>
<rect x="2979" y="1190" width="227" height="69" fill="none" stroke="#FF0000" stroke-width="3.5"/>

<!-- S8 -->
<text class="t21" x="2943" y="1430">第三次循环开始，又执行到</text>
<text class="t21" x="2943" y="1465">红框的代码：</text>
<g class="t16"><text x="2095" y="1416">线程A:</text><text x="2095" y="1631">线程B:</text><text x="2087" y="1824">原数组:</text></g>
<g class="ix t16">
<text x="2139" y="1446">0</text><text x="2235" y="1446">1</text><text x="2331" y="1446">2</text><text x="2426" y="1446">3</text><text x="2522" y="1446">4</text><text x="2618" y="1446">5</text><text x="2714" y="1446">6</text><text x="2810" y="1446">7</text>
<text x="2139" y="1651">0</text><text x="2235" y="1651">1</text><text x="2331" y="1651">2</text><text x="2426" y="1651">3</text><text x="2522" y="1651">4</text><text x="2618" y="1651">5</text><text x="2714" y="1651">6</text><text x="2810" y="1651">7</text>
<text x="2235" y="1803">0</text><text x="2331" y="1803">1</text><text x="2426" y="1803">2</text><text x="2522" y="1803">3</text>
</g>
<g id="s8a-0"><rect class="bx b" x="2098" y="1453" width="83" height="43"/><text class="lt" font-size="17" x="2139" y="1480">Null</text></g>
<g id="s8a-1"><rect class="bx g" x="2194" y="1453" width="83" height="43"/><text class="lt" font-size="17" x="2235" y="1480">Entry4</text></g>
<g id="s8a-2"><rect class="bx b" x="2290" y="1453" width="83" height="43"/><text class="lt" font-size="17" x="2331" y="1480">Null</text></g>
<g id="s8a-3"><rect class="bx g" x="2385" y="1453" width="83" height="43"/><text class="lt" font-size="17" x="2426" y="1480">Entry2</text></g>
<g id="s8a-4"><rect class="bx g" x="2481" y="1453" width="83" height="43"/><text class="lt" font-size="17" x="2522" y="1480">Entry1</text></g>
<g id="s8a-5"><rect class="bx b" x="2577" y="1453" width="83" height="43"/><text class="lt" font-size="17" x="2618" y="1480">Null</text></g>
<g id="s8a-6"><rect class="bx g" x="2673" y="1453" width="83" height="43"/><text class="lt" font-size="17" x="2714" y="1480">Entry5</text></g>
<g id="s8a-7"><rect class="bx b" x="2769" y="1453" width="83" height="43"/><text class="lt" font-size="17" x="2810" y="1480">Null</text></g>
<g id="s8a-e3"><rect class="bx g" x="2385" y="1532" width="83" height="44"/><text class="lt" font-size="17" x="2426" y="1560">Entry3</text></g>
<g id="s8b-0"><rect class="bx b" x="2098" y="1658" width="83" height="43"/><text class="lt" font-size="17" x="2139" y="1685">Null</text></g>
<g id="s8b-1"><rect class="bx b" x="2194" y="1658" width="83" height="43"/><text class="lt" font-size="17" x="2235" y="1685">Null</text></g>
<g id="s8b-2"><rect class="bx b" x="2290" y="1658" width="83" height="43"/><text class="lt" font-size="17" x="2331" y="1685">Null</text></g>
<g id="s8b-3"><rect class="bx g" x="2385" y="1658" width="83" height="43"/><text class="lt" font-size="17" x="2426" y="1685">Entry2</text></g>
<g id="s8b-4"><rect class="bx b" x="2481" y="1658" width="83" height="43"/><text class="lt" font-size="17" x="2522" y="1685">Null</text></g>
<g id="s8b-5"><rect class="bx b" x="2577" y="1658" width="83" height="43"/><text class="lt" font-size="17" x="2618" y="1685">Null</text></g>
<g id="s8b-6"><rect class="bx b" x="2673" y="1658" width="83" height="43"/><text class="lt" font-size="17" x="2714" y="1685">Null</text></g>
<g id="s8b-7"><rect class="bx b" x="2769" y="1658" width="83" height="43"/><text class="lt" font-size="17" x="2810" y="1685">Null</text></g>
<g id="s8b-e3"><rect class="bx g" x="2385" y="1737" width="83" height="43"/><text class="lt" font-size="17" x="2426" y="1764">Entry3</text></g>
<g id="s8o-0"><rect class="bx b" x="2194" y="1811" width="83" height="42"/><text class="lt" font-size="17" x="2235" y="1838">Null</text></g>
<g id="s8o-1"><rect class="bx b" x="2290" y="1811" width="83" height="42"/><text class="lt" font-size="17" x="2331" y="1838">Null</text></g>
<g id="s8o-2"><rect class="bx b" x="2385" y="1811" width="83" height="42"/><text class="lt" font-size="17" x="2426" y="1838">Null</text></g>
<g id="s8o-3"><rect class="bx b" x="2481" y="1811" width="83" height="42"/><text class="lt" font-size="17" x="2522" y="1838">Null</text></g>
<text class="t22" x="2299" y="1553">e</text>
<text class="t22" x="2579" y="1553">next</text>
<g id="code-r4" class="code">
<text x="2876" y="1508"><tspan class="kw">void</tspan> transfer(Entry[] newTable, <tspan class="kw">boolean</tspan> rehash) {</text>
<text x="2908" y="1533"><tspan class="kw">int</tspan> newCapacity = newTable.<tspan class="fd">length</tspan>;</text>
<text x="2908" y="1558"><tspan class="kw">for</tspan> (Entry&lt;<tspan class="tv">K</tspan>,<tspan class="tv">V</tspan>&gt; e : <tspan class="fd">table</tspan>) {</text>
<text x="2940" y="1582"><tspan class="kw">while</tspan>(<tspan class="kw">null</tspan> != e) {</text>
<text x="2972" y="1607">Entry&lt;<tspan class="tv">K</tspan>,<tspan class="tv">V</tspan>&gt; next = e.<tspan class="fd">next</tspan>;</text>
<text x="2972" y="1632"><tspan class="kw">if</tspan> (rehash) {</text>
<text x="3004" y="1657">e.<tspan class="fd">hash</tspan> = <tspan class="kw">null</tspan> == e.<tspan class="fd">key</tspan> ? <tspan class="nm">0</tspan> : hash(e.<tspan class="fd">key</tspan>);</text>
<text x="2972" y="1682">}</text>
<text x="2972" y="1706"><tspan class="kw">int</tspan> i = <tspan font-style="italic">indexFor</tspan>(e.<tspan class="fd">hash</tspan>, newCapacity);</text>
<text x="2972" y="1731">e.<tspan class="fd">next</tspan> = newTable[i];</text>
<text x="2972" y="1756">newTable[i] = e;</text>
<text x="2972" y="1781">e = next;</text>
<text x="2940" y="1806">}</text>
<text x="2908" y="1830">}</text>
<text x="2876" y="1855">}</text>
</g>
<rect x="2962" y="1588" width="219" height="25" fill="none" stroke="#FF0000" stroke-width="3.5"/>
<g id="note4"><rect x="2994" y="1795" width="268" height="74" fill="#fff" stroke="#000" stroke-width="5"/>
<text class="t21" x="3002" y="1817">e = Entry3</text><text class="t21" x="3002" y="1852">next = Entry3.next = null</text></g>

<!-- S9 -->
<text class="t21" x="2076" y="1919" textLength="621">最后一步，当我们执行下面这一行的时候，见证奇迹的时刻来临了：</text>
<g id="note5"><rect x="2704" y="1881" width="573" height="89" fill="#fff" stroke="#3F48CC" stroke-width="4.5"/>
<text class="red" font-size="16.5" x="2710" y="1909" textLength="546">此时，问题还没有直接产生。当调用Get查找一个不存在的Key，而这个Key的</text>
<text class="red" font-size="16.5" x="2710" y="1936" textLength="552">Hash结果恰好等于3的时候，由于位置3带有环形链表，所以程序将会进入死循</text>
<text class="red" font-size="16.5" x="2710" y="1962">环！</text></g>
<g id="code-r5" class="code">
<text x="2110" y="1955"><tspan class="kw">void</tspan> transfer(Entry[] newTable, <tspan class="kw">boolean</tspan> rehash) {</text>
<text x="2142" y="1980"><tspan class="kw">int</tspan> newCapacity = newTable.<tspan class="fd">length</tspan>;</text>
<text x="2142" y="2005"><tspan class="kw">for</tspan> (Entry&lt;<tspan class="tv">K</tspan>,<tspan class="tv">V</tspan>&gt; e : <tspan class="fd">table</tspan>) {</text>
<text x="2174" y="2030"><tspan class="kw">while</tspan>(<tspan class="kw">null</tspan> != e) {</text>
<text x="2206" y="2055">Entry&lt;<tspan class="tv">K</tspan>,<tspan class="tv">V</tspan>&gt; next = e.<tspan class="fd">next</tspan>;</text>
<text x="2206" y="2080"><tspan class="kw">if</tspan> (rehash) {</text>
<text x="2238" y="2104">e.<tspan class="fd">hash</tspan> = <tspan class="kw">null</tspan> == e.<tspan class="fd">key</tspan> ? <tspan class="nm">0</tspan> : hash(e.<tspan class="fd">key</tspan>);</text>
<text x="2206" y="2129">}</text>
<text x="2206" y="2154"><tspan class="kw">int</tspan> i = <tspan font-style="italic">indexFor</tspan>(e.<tspan class="fd">hash</tspan>, newCapacity);</text>
<text x="2206" y="2179">e.<tspan class="fd">next</tspan> = newTable[i];</text>
<text x="2206" y="2204">newTable[i] = e;</text>
<text x="2206" y="2229">e = next;</text>
<text x="2174" y="2254">}</text>
<text x="2142" y="2279">}</text>
<text x="2110" y="2304">}</text>
</g>
<rect x="2194" y="2164" width="227" height="25" fill="none" stroke="#FF0000" stroke-width="3.5"/>
<g class="t21">
<text x="2350" y="2227">newTable[i] = Entry2</text>
<text x="2350" y="2263">e = Entry3</text>
<text x="2350" y="2299">Entry2.next = Entry3</text>
<text x="2350" y="2335">Entry3.next = Entry2</text>
<text x="2350" y="2371">链表出现了环形</text>
</g>
<g class="t15"><text x="2614" y="1959">线程A:</text><text x="2614" y="2160">线程B:</text><text x="2609" y="2340">原数组:</text></g>
<g class="ix t14">
<text x="2655" y="1987">0</text><text x="2739" y="1987">1</text><text x="2822" y="1987">2</text><text x="2906" y="1987">3</text><text x="2990" y="1987">4</text><text x="3074" y="1987">5</text><text x="3157" y="1987">6</text><text x="3241" y="1987">7</text>
<text x="2655" y="2178">0</text><text x="2739" y="2178">1</text><text x="2822" y="2178">2</text><text x="2906" y="2178">3</text><text x="2990" y="2178">4</text><text x="3074" y="2178">5</text><text x="3157" y="2178">6</text><text x="3241" y="2178">7</text>
<text x="2739" y="2320">0</text><text x="2822" y="2320">1</text><text x="2906" y="2320">2</text><text x="2990" y="2320">3</text>
</g>
<g id="s9a-0"><rect class="bx b" x="2619" y="1993" width="72" height="39"/><text class="lt t15" x="2655" y="2018">Null</text></g>
<g id="s9a-1"><rect class="bx g" x="2703" y="1993" width="72" height="39"/><text class="lt t15" x="2739" y="2018">Entry4</text></g>
<g id="s9a-2"><rect class="bx b" x="2786" y="1993" width="72" height="39"/><text class="lt t15" x="2822" y="2018">Null</text></g>
<g id="s9a-3"><rect class="bx g" x="2870" y="1993" width="72" height="39"/><text class="lt t15" x="2906" y="2018">Entry2</text></g>
<g id="s9a-4"><rect class="bx g" x="2954" y="1993" width="72" height="39"/><text class="lt t15" x="2990" y="2018">Entry1</text></g>
<g id="s9a-5"><rect class="bx b" x="3038" y="1993" width="72" height="39"/><text class="lt t15" x="3074" y="2018">Null</text></g>
<g id="s9a-6"><rect class="bx g" x="3121" y="1993" width="72" height="39"/><text class="lt t15" x="3157" y="2018">Entry5</text></g>
<g id="s9a-7"><rect class="bx b" x="3205" y="1993" width="72" height="39"/><text class="lt t15" x="3241" y="2018">Null</text></g>
<g id="s9a-e3"><rect class="bx g" x="2870" y="2066" width="72" height="41"/><text class="lt t15" x="2906" y="2092">Entry3</text></g>
<g id="s9b-0"><rect class="bx b" x="2619" y="2184" width="72" height="40"/><text class="lt t15" x="2655" y="2209">Null</text></g>
<g id="s9b-1"><rect class="bx b" x="2703" y="2184" width="72" height="40"/><text class="lt t15" x="2739" y="2209">Null</text></g>
<g id="s9b-2"><rect class="bx b" x="2786" y="2184" width="72" height="40"/><text class="lt t15" x="2822" y="2209">Null</text></g>
<g id="s9b-3"><rect class="bx g" x="2870" y="2184" width="72" height="40"/><text class="lt t15" x="2906" y="2209">Entry2</text></g>
<g id="s9b-4"><rect class="bx b" x="2954" y="2184" width="72" height="40"/><text class="lt t15" x="2990" y="2209">Null</text></g>
<g id="s9b-5"><rect class="bx b" x="3038" y="2184" width="72" height="40"/><text class="lt t15" x="3074" y="2209">Null</text></g>
<g id="s9b-6"><rect class="bx b" x="3121" y="2184" width="72" height="40"/><text class="lt t15" x="3157" y="2209">Null</text></g>
<g id="s9b-7"><rect class="bx b" x="3205" y="2184" width="72" height="40"/><text class="lt t15" x="3241" y="2209">Null</text></g>
<g id="s9b-e3"><rect class="bx g" x="2870" y="2259" width="72" height="40"/><text class="lt t15" x="2906" y="2284">Entry3</text></g>
<g id="s9o-0"><rect class="bx b" x="2703" y="2328" width="72" height="39"/><text class="lt t15" x="2739" y="2353">Null</text></g>
<g id="s9o-1"><rect class="bx b" x="2786" y="2328" width="72" height="39"/><text class="lt t15" x="2822" y="2353">Null</text></g>
<g id="s9o-2"><rect class="bx b" x="2870" y="2328" width="72" height="39"/><text class="lt t15" x="2906" y="2353">Null</text></g>
<g id="s9o-3"><rect class="bx b" x="2954" y="2328" width="72" height="39"/><text class="lt t15" x="2990" y="2353">Null</text></g>
<text font-size="20" x="2793" y="2087">e</text>
<text font-size="21" x="3038" y="2094">next</text>
<text font-size="21" x="2919" y="2145">null</text>

<!-- CONNECTORS -->
<g id="connectors">
<g class="arr">
<path d="M311.5,843H324.5V869H331.5L318,883L304.5,869H311.5Z"/>
<path d="M1268.5,395H1281.5V421H1288.5L1275,435L1261.5,421H1268.5Z"/>
<path d="M1268.5,516H1281.5V541H1288.5L1275,555L1261.5,541H1268.5Z"/>
<path d="M1802.5,330H1815.5V357H1822.5L1809,371L1795.5,357H1802.5Z"/>
<path d="M1802.5,451H1815.5V476H1822.5L1809,490L1795.5,476H1802.5Z"/>
<path d="M1384.5,1144H1397.5V1170H1404.5L1391,1184L1377.5,1170H1384.5Z"/>
<path d="M1384.5,1264H1397.5V1290H1404.5L1391,1304L1377.5,1290H1384.5Z"/>
<path transform="translate(1161,210) rotate(-14.4)" d="M-6.5,0H6.5V56H13.5L0,72L-13.5,56H-6.5Z"/>
<path transform="translate(1421,212) rotate(17.2)" d="M-6.5,0H6.5V55H13.5L0,71L-13.5,55H-6.5Z"/>
<path d="M1201.5,2022H1210.5V2039H1215.5L1206,2049L1196.5,2039H1201.5Z"/>
<path d="M2388.5,553H2399.5V568H2406L2394,580L2382,568H2388.5Z"/>
<path d="M2417.5,1023H2428.5V1038H2436L2423,1050L2410,1038H2417.5Z"/>
<path d="M2421.5,1502H2432.5V1517H2440L2427,1529L2414,1517H2421.5Z"/>
<path d="M2421.5,1706H2432.5V1721H2440L2427,1733L2414,1721H2421.5Z"/>
</g>
<polygon points="1429,360 1512,360 1512,346 1598,372 1512,398 1512,385 1429,385" fill="#fff" stroke="#000" stroke-width="4" stroke-linejoin="miter"/>
<path class="ptr" d="M1272,2051 L1231,2024"/>
<polyline points="1157,2068 1161,2072 1157,2076" fill="none" stroke="#7896C8" stroke-width="1.3"/>
<path class="ptr" d="M2281,593 L2352,559"/>
<path class="ptr" d="M2492,583 L2429,554"/>
<path class="ptr" d="M2309,1065 L2381,1029"/>
<path class="ptr" d="M2556,1071 L2480,1076"/>
<path class="ptr" d="M2313,1544 L2372,1548"/>
<path class="ptr" d="M2562,1549 L2483,1553"/>
<path class="ptr" d="M2810,2079 L2856,2081"/>
<path class="ptr" d="M3030,2097 L2962,2131"/>
<path class="crv" d="M2897,2036 Q2876,2050 2895,2064"/>
<path class="crv" d="M2916,2064 Q2937,2050 2918,2036"/>
<path class="crv" d="M2897,2228 Q2876,2242 2895,2256"/>
<path class="crv" d="M2916,2256 Q2937,2242 2918,2228"/>
<path class="blk" stroke-width="4" d="M2531,252 L2623,138 M2588,150 L2623,138"/>
<path class="blk" stroke-width="6" d="M2343,333 L2623,270"/>
<path class="blk" stroke-width="4" d="M2604,300 L2623,270"/>
<path class="blk" stroke-width="3.5" d="M2996,795 L2838,955 M2832,917 L2838,955"/>
<path class="blk" stroke-width="3.5" d="M3030,1280 L2874,1463 M2872,1425 L2874,1463"/>
</g>
</svg>
